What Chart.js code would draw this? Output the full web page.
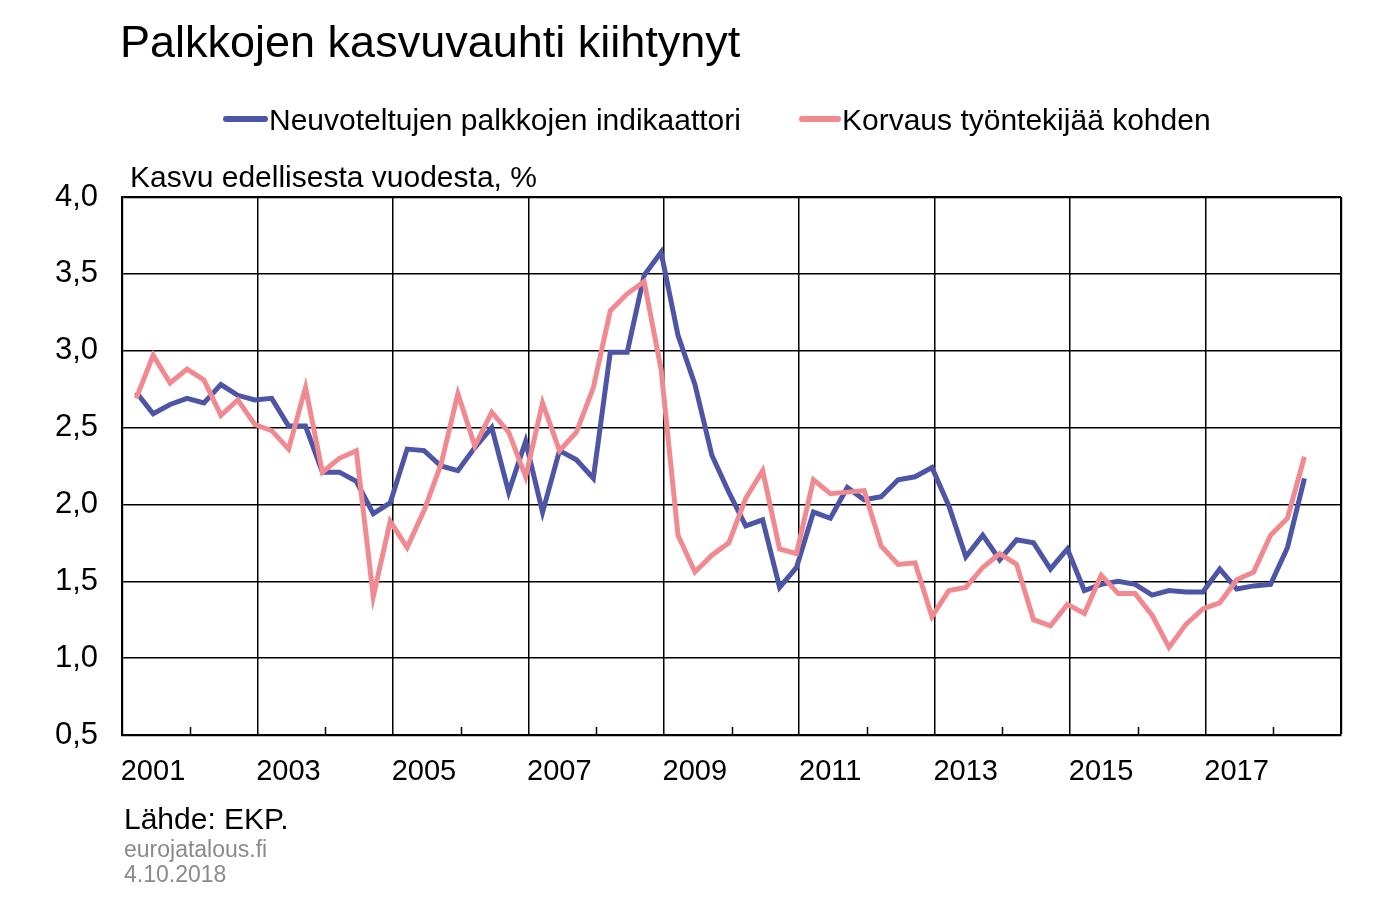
<!DOCTYPE html>
<html>
<head>
<meta charset="utf-8">
<title>Palkkojen kasvuvauhti kiihtynyt</title>
<script src="https://cdn.jsdelivr.net/npm/chart.js@4/dist/chart.umd.min.js"></script>
<style>
    html, body { margin: 0; padding: 0; background: #fff; }
    #wrap { width: 1377px; height: 900px; }
</style>
</head>
<body>
<div id="wrap"><canvas id="wageChart" width="1377" height="900"></canvas></div>
<script>
const chartTitle = 'Palkkojen kasvuvauhti kiihtynyt'
const seriesNames = ['Neuvoteltujen palkkojen indikaattori', 'Korvaus työntekijää kohden']
const unitLabel = 'Kasvu edellisesta vuodesta, %'
const sourceLines = ['Lähde: EKP.', 'eurojatalous.fi', '4.10.2018']

// quarterly observations 2001Q1 ... 2018Q2
const quarters = []
for (let y = 2001; y <= 2018; y++) {
    for (let q = 1; q <= 4; q++) {
        if (y === 2018 && q > 2) break
        quarters.push(y + 'Q' + q)
    }
}

const negotiatedWages = [
    2.73, 2.59, 2.65, 2.69, 2.66, 2.78, 2.71, 2.68, 2.69, 2.51, 2.51, 2.21,
    2.21, 2.15, 1.94, 2.01, 2.36, 2.35, 2.25, 2.22, 2.37, 2.50, 2.08, 2.41,
    1.95, 2.35, 2.29, 2.17, 2.99, 2.99, 3.49, 3.64, 3.10, 2.78, 2.32, 2.08,
    1.86, 1.90, 1.46, 1.59, 1.95, 1.91, 2.11, 2.03, 2.05, 2.16, 2.18, 2.24,
    1.99, 1.66, 1.80, 1.64, 1.77, 1.75, 1.58, 1.71, 1.44, 1.48, 1.50, 1.48,
    1.41, 1.44, 1.43, 1.43, 1.58, 1.45, 1.47, 1.48, 1.72, 2.17
]
const compensation = [
    2.69, 2.97, 2.79, 2.88, 2.81, 2.58, 2.68, 2.52, 2.48, 2.36, 2.76, 2.21,
    2.30, 2.35, 1.40, 1.89, 1.72, 1.96, 2.26, 2.72, 2.38, 2.60, 2.47, 2.18,
    2.66, 2.35, 2.47, 2.76, 3.26, 3.37, 3.45, 2.88, 1.80, 1.56, 1.67, 1.75,
    2.04, 2.22, 1.71, 1.68, 2.16, 2.07, 2.08, 2.09, 1.73, 1.61, 1.62, 1.27,
    1.44, 1.46, 1.59, 1.68, 1.61, 1.25, 1.21, 1.35, 1.29, 1.54, 1.42, 1.42,
    1.28, 1.07, 1.22, 1.32, 1.36, 1.51, 1.56, 1.80, 1.91, 2.31
]

const yearLabels = [2001, 2003, 2005, 2007, 2009, 2011, 2013, 2015, 2017]
const yMin = 0.5, yMax = 4.0, yStep = 0.5
const xMin = 2001, xMax = 2019

const BLUE = '#4d55a5'
const PINK = '#f08a90'
const FONT = "'Liberation Sans', Arial, sans-serif"

// points sit near the end of each quarter
function quarterToX(label) {
    const y = +label.slice(0, 4), q = +label.slice(5)
    return y + (q - 1) / 4 + 0.21
}

function toPoints(values) {
    return values.map((v, i) => ({ x: quarterToX(quarters[i]), y: v }))
}

const decorations = {
    id: 'decorations',
    beforeDatasetsDraw(chart) {
        const ctx = chart.ctx, xs = chart.scales.x, area = chart.chartArea
        ctx.save()
        ctx.strokeStyle = '#000'
        ctx.lineWidth = 1.5
        for (let y = 2002; y <= 2018; y += 2) {
            const px = Math.round(xs.getPixelForValue(y)) + 0.5
            ctx.beginPath()
            ctx.moveTo(px, area.bottom)
            ctx.lineTo(px, area.bottom - 8)
            ctx.stroke()
        }
        ctx.restore()
    },
    afterDraw(chart) {
        const ctx = chart.ctx
        ctx.save()
        ctx.fillStyle = '#000'
        ctx.textBaseline = 'alphabetic'
        ctx.textAlign = 'left'

        ctx.font = '45px ' + FONT
        ctx.fillText(chartTitle, 120, 57)

        // legend
        const items = [
            { x1: 226, x2: 265, tx: 269, color: BLUE, text: seriesNames[0] },
            { x1: 802, x2: 838, tx: 842, color: PINK, text: seriesNames[1] }
        ]
        ctx.font = '30px ' + FONT
        items.forEach(it => {
            ctx.strokeStyle = it.color
            ctx.lineWidth = 6
            ctx.lineCap = 'round'
            ctx.beginPath()
            ctx.moveTo(it.x1, 119)
            ctx.lineTo(it.x2, 119)
            ctx.stroke()
            ctx.fillText(it.text, it.tx, 130)
        })

        ctx.font = '30px ' + FONT
        ctx.fillText(unitLabel, 130, 187)

        ctx.fillText(sourceLines[0], 124, 829)
        ctx.fillStyle = '#8a8a8a'
        ctx.font = '23px ' + FONT
        ctx.fillText(sourceLines[1], 124, 857)
        ctx.fillText(sourceLines[2], 124, 882)
        ctx.restore()
    }
}

new Chart(document.getElementById('wageChart').getContext('2d'), {
    type: 'line',
    data: {
        datasets: [{
            label: seriesNames[0],
            data: toPoints(negotiatedWages),
            borderColor: BLUE,
            borderWidth: 5,
            pointRadius: 0,
            tension: 0,
            order: 1
        }, {
            label: seriesNames[1],
            data: toPoints(compensation),
            borderColor: PINK,
            borderWidth: 5,
            pointRadius: 0,
            tension: 0,
            order: 0
        }]
    },
    options: {
        responsive: false,
        animation: false,
        events: [],
        layout: { padding: { top: 197, right: 36, bottom: 0, left: 0 } },
        plugins: {
            legend: { display: false },
            tooltip: { enabled: false }
        },
        scales: {
            x: {
                type: 'linear',
                min: xMin,
                max: xMax,
                afterFit: s => { s.height = 165 },
                afterBuildTicks: axis => {
                    const t = []
                    for (let y = xMin; y <= xMax; y++) t.push({ value: y })
                    axis.ticks = t
                },
                grid: {
                    color: c => (c.tick && c.tick.value % 2 === 1) ? '#000' : 'rgba(0,0,0,0)',
                    lineWidth: c => (c.tick && c.tick.value === xMax) ? 2.2 : 1.5,
                    drawTicks: false
                },
                border: { color: '#000', width: 2.2 },
                ticks: {
                    autoSkip: false,
                    maxRotation: 0,
                    padding: 20,
                    labelOffset: 31,
                    color: '#000',
                    font: { family: FONT, size: 29 },
                    callback: v => yearLabels.includes(v) ? String(v) : ''
                }
            },
            y: {
                min: yMin,
                max: yMax,
                afterFit: s => { s.width = 122 },
                grid: {
                    color: '#000',
                    lineWidth: c => (c.tick && c.tick.value === yMax) ? 2.2 : 1.5,
                    drawTicks: false
                },
                border: { color: '#000', width: 2.2 },
                ticks: {
                    stepSize: yStep,
                    padding: 24,
                    color: '#000',
                    font: { family: FONT, size: 31 },
                    callback: v => v.toFixed(1).replace('.', ',')
                }
            }
        }
    },
    plugins: [decorations]
})
</script>
</body>
</html>
